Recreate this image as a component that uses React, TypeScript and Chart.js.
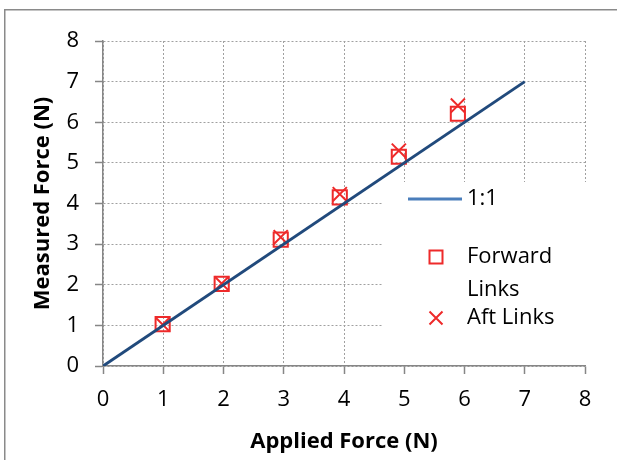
import React, { useEffect, useRef } from 'react';
import { Chart, registerables } from 'chart.js';

Chart.register(...registerables);

// ---- data ----
const oneToOneX = [0, 7];
const oneToOneY = [0, 7];
const forwardX = [0.99, 1.97, 2.95, 3.93, 4.91, 5.89];
const forwardY = [1.03, 2.02, 3.11, 4.15, 5.15, 6.21];
const aftX = [0.99, 1.97, 2.95, 3.93, 4.91, 5.89];
const aftY = [1.02, 2.03, 3.17, 4.23, 5.3, 6.41];
const seriesLabels = ['1:1', 'Forward Links', 'Aft Links'];
const xTitle = 'Applied Force (N)';
const yTitle = 'Measured Force (N)';
const axisMin = 0;
const axisMax = 8;

const FONT = '"Open Sans", "DejaVu Sans", sans-serif';
const RED = '#EE2A2A';
const LINE_BLUE = '#214A7C';
const LEGEND_BLUE = '#4A7EBB';

const frameAndLegend = {
  id: 'frameAndLegend',
  beforeDraw(chart: any) {
    const ctx = chart.ctx;
    ctx.save();
    ctx.strokeStyle = '#8a8a8a';
    ctx.lineWidth = 1.5;
    ctx.beginPath();
    ctx.moveTo(4.75, 470);
    ctx.lineTo(4.75, 9.75);
    ctx.lineTo(640, 9.75);
    ctx.stroke();
    ctx.restore();
  },
  beforeDatasetsDraw(chart: any) {
    const ctx = chart.ctx;
    const a = chart.chartArea;
    ctx.save();
    ctx.fillStyle = '#ffffff';
    ctx.fillRect(382, 182, a.right + 1 - 382, a.bottom - 1.5 - 182);
    ctx.restore();
  },
  afterDraw(chart: any) {
    const ctx = chart.ctx;
    ctx.save();
    ctx.font = `22px ${FONT}`;
    ctx.fillStyle = '#000';
    ctx.textBaseline = 'middle';
    ctx.textAlign = 'left';
    const textX = 467;
    const maxW = 112;
    const rows = [199, 257, 318];
    const lineH = 33;
    chart.data.datasets.forEach((ds: any, i: number) => {
      const y = rows[i];
      if (i === 0) {
        ctx.strokeStyle = LEGEND_BLUE;
        ctx.lineWidth = 3;
        ctx.beginPath();
        ctx.moveTo(408, y);
        ctx.lineTo(462, y);
        ctx.stroke();
      } else {
        ctx.strokeStyle = RED;
        ctx.lineWidth = 2;
        ctx.beginPath();
        if (ds.pointStyle === 'rect') {
          ctx.rect(436 - 6.5, y - 6.5, 13, 13);
        } else {
          ctx.moveTo(436 - 6.5, y - 6.5);
          ctx.lineTo(436 + 6.5, y + 6.5);
          ctx.moveTo(436 + 6.5, y - 6.5);
          ctx.lineTo(436 - 6.5, y + 6.5);
        }
        ctx.stroke();
      }
      // wrap label text
      const words = String(ds.label).split(' ');
      const lines: string[] = [];
      let cur = '';
      words.forEach((w) => {
        const t = cur ? cur + ' ' + w : w;
        if (ctx.measureText(t).width > maxW && cur) {
          lines.push(cur);
          cur = w;
        } else cur = t;
      });
      if (cur) lines.push(cur);
      lines.forEach((l, k) => ctx.fillText(l, textX, y + k * lineH));
    });
    ctx.restore();
  },
};

export default function App() {
  const ref = useRef<HTMLCanvasElement>(null);
  useEffect(() => {
    if (!ref.current) return;
    const gridCommon = {
      color: '#a0a0a0',
      lineWidth: 1,
      tickLength: 8,
      tickColor: '#868686',
      tickBorderDash: [],
      tickWidth: 1.5,
    };
    const borderCommon = { display: true, color: '#868686', width: 1.5, dash: [2, 2] };
    const chart = new Chart(ref.current, {
      type: 'scatter',
      data: {
        datasets: [
          {
            label: seriesLabels[0],
            type: 'line',
            data: oneToOneX.map((x, i) => ({ x, y: oneToOneY[i] })),
            borderColor: LINE_BLUE,
            borderWidth: 3,
            pointRadius: 0,
            fill: false,
          } as any,
          {
            label: seriesLabels[1],
            data: forwardX.map((x, i) => ({ x, y: forwardY[i] })),
            pointStyle: 'rect',
            pointRadius: 10,
            borderColor: RED,
            backgroundColor: 'rgba(0,0,0,0)',
            borderWidth: 2,
          },
          {
            label: seriesLabels[2],
            data: aftX.map((x, i) => ({ x, y: aftY[i] })),
            pointStyle: 'crossRot',
            pointRadius: 10,
            borderColor: RED,
            backgroundColor: RED,
            borderWidth: 2,
          },
        ],
      },
      options: {
        animation: false,
        responsive: false,
        devicePixelRatio: 1,
        layout: { padding: { left: 0, top: 41, right: 32, bottom: 0 } },
        plugins: {
          legend: { display: false },
          tooltip: { enabled: false },
        },
        scales: {
          x: {
            type: 'linear',
            min: axisMin,
            max: axisMax,
            ticks: { stepSize: 1, color: '#000', font: { family: FONT, size: 22 }, padding: 13 },
            grid: gridCommon as any,
            border: borderCommon as any,
            title: {
              display: true,
              text: xTitle,
              color: '#000',
              font: { family: FONT, size: 22, weight: 'bold' },
              padding: { top: 0, bottom: 5 },
            },
            afterFit: (s: any) => {
              s.height = 94;
            },
          },
          y: {
            type: 'linear',
            min: axisMin,
            max: axisMax,
            ticks: { stepSize: 1, color: '#000', font: { family: FONT, size: 22 }, padding: 16 },
            grid: gridCommon as any,
            border: borderCommon as any,
            title: {
              display: true,
              text: yTitle,
              color: '#000',
              font: { family: FONT, size: 22, weight: 'bold' },
              padding: { top: 30, bottom: 0 },
            },
            afterFit: (s: any) => {
              s.width = 103;
            },
          },
        },
      },
      plugins: [frameAndLegend],
    });
    return () => chart.destroy();
  }, []);
  return (
    <div style={{ position: 'absolute', left: 0, top: 0, width: 617, height: 460 }}>
      <canvas ref={ref} width={617} height={460} style={{ display: 'block' }} />
    </div>
  );
}
